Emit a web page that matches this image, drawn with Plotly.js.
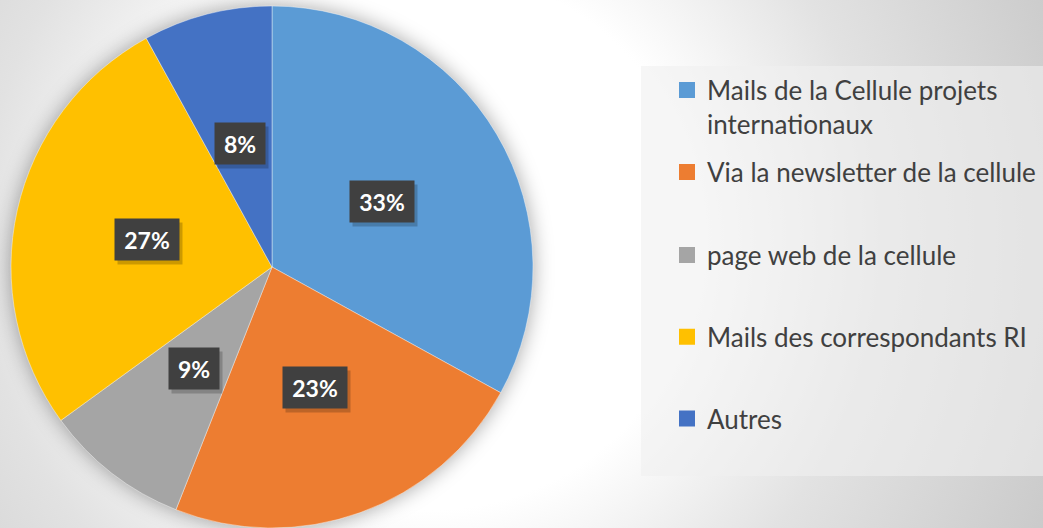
<!DOCTYPE html>
<html>
<head>
<meta charset="utf-8">
<script src="https://cdn.plot.ly/plotly-3.0.1.min.js"></script>
<style>
  html, body { margin: 0; padding: 0; }
  #chart {
    width: 1043px; height: 528px;
    background: radial-gradient(circle at 430px 240px, #ffffff 0px, #ffffff 270px, #e2e2e2 450px, #c8c8c8 700px);
  }
  .pielayer { filter: drop-shadow(0px 0px 10px rgba(0,0,0,0.35)); }
</style>
</head>
<body>
<div id="chart"></div>
<script>
// ---- data ----
const categories = [
  "Mails de la Cellule projets<br>internationaux",
  "Via la newsletter de la cellule",
  "page web de la cellule",
  "Mails des correspondants RI",
  "Autres"
];
const values = [33, 23, 9, 27, 8];
const colors = ["#5B9BD5", "#ED7D31", "#A5A5A5", "#FFC000", "#4472C4"];

// ---- geometry ----
const W = 1043, H = 528;
const pieDomain = { x: [11 / W, 533 / W], y: [1 - 528 / H, 1 - 6 / H] };
const labelRadius = 0.49;
const legendY = [0.797, 0.674, 0.517, 0.362, 0.207];

const total = values.reduce((a, b) => a + b, 0);
const cxP = (pieDomain.x[0] + pieDomain.x[1]) / 2;
const cyP = (pieDomain.y[0] + pieDomain.y[1]) / 2;
const Rpx = Math.min((pieDomain.x[1] - pieDomain.x[0]) * W, (pieDomain.y[1] - pieDomain.y[0]) * H) / 2;

const traces = [{
  type: "pie",
  labels: categories,
  values: values,
  sort: false,
  direction: "clockwise",
  rotation: 0,
  domain: pieDomain,
  marker: { colors: colors, line: { color: "rgba(255,255,255,0.5)", width: 0.8 } },
  textinfo: "none",
  hoverinfo: "label+percent",
  showlegend: false
}];

// legend entries (one per category, each in its own legend for spacing)
categories.forEach((c, i) => {
  traces.push({
    type: "scatter", mode: "markers",
    x: [null], y: [null],
    name: c,
    marker: { symbol: "square", size: 16, color: colors[i] },
    legend: i === 0 ? "legend" : "legend" + (i + 1),
    hoverinfo: "skip",
    showlegend: true
  });
});

const annotations = [];
let cum = 0;
values.forEach((v, i) => {
  const mid = (cum + v / 2) / total * 2 * Math.PI;
  cum += v;
  const x = cxP + labelRadius * Rpx * Math.sin(mid) / W;
  const y = cyP + labelRadius * Rpx * Math.cos(mid) / H;
  const txt = Math.round(v / total * 100) + "%";
  const w = 14 * txt.length + 6;
  const base = {
    x: x, y: y, xref: "paper", yref: "paper", showarrow: false,
    xanchor: "center", yanchor: "middle",
    text: txt, width: w, height: 25, borderpad: 8,
    font: { family: "Lato", size: 23, weight: "bold", color: "#ffffff" }
  };
  annotations.push(Object.assign({}, base, {
    text: " ", bgcolor: "rgba(0,0,0,0.2)", xshift: 3, yshift: -4
  }));
  annotations.push(Object.assign({}, base, { bgcolor: "#404040" }));
});

const legendBase = {
  x: 667 / W, xanchor: "left", yanchor: "middle",
  bgcolor: "rgba(0,0,0,0)", borderwidth: 0,
  font: { family: "Lato", size: 26, color: "#404040" },
  itemwidth: 30, itemclick: false, itemdoubleclick: false
};

const layout = {
  width: W, height: H,
  margin: { l: 0, r: 0, t: 0, b: 0 },
  paper_bgcolor: "rgba(0,0,0,0)",
  plot_bgcolor: "rgba(0,0,0,0)",
  xaxis: { visible: false, fixedrange: true },
  yaxis: { visible: false, fixedrange: true },
  shapes: [{
    type: "rect", xref: "paper", yref: "paper",
    x0: 641 / W, x1: 1, y0: 1 - 476 / H, y1: 1 - 66 / H,
    fillcolor: "rgba(240,240,240,0.6)", line: { width: 0 }, layer: "below"
  }],
  annotations: annotations
};
legendY.forEach((ly, i) => {
  const key = i === 0 ? "legend" : "legend" + (i + 1);
  layout[key] = Object.assign({}, legendBase, { y: ly, valign: i === 0 ? "top" : "middle" });
});

Plotly.newPlot("chart", traces, layout, { displayModeBar: false, staticPlot: true });
</script>
</body>
</html>
